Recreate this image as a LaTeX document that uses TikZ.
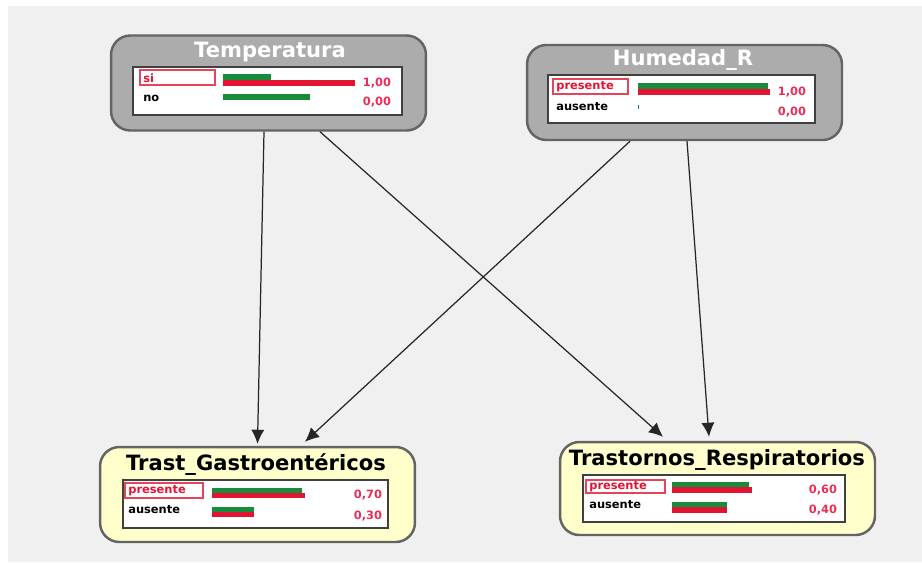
\documentclass[tikz,border=0pt]{standalone}
\usepackage{fontspec}
\setmainfont{DejaVu Sans}
\usetikzlibrary{positioning}
\usetikzlibrary{arrows.meta}

\definecolor{bggray}{RGB}{240,240,240}
\definecolor{nodegray}{RGB}{172,172,172}
\definecolor{edgegray}{RGB}{100,100,100}
\definecolor{nodeyellow}{RGB}{255,255,204}
\definecolor{barred}{RGB}{225,20,50}
\definecolor{bargreen}{RGB}{25,140,60}
\definecolor{valred}{RGB}{235,45,85}

\begin{document}
\begin{tikzpicture}[
        x = 0.02cm, y = -0.02cm,
        netnode/.style = {
            draw = edgegray,
            line width = 1.4pt,
            rounded corners = 11pt,
            minimum width = 6.3cm,
            minimum height = 1.9cm,
            inner sep = 0pt
        },
        title/.style = {
            font = \fontsize{12}{13}\selectfont\bfseries,
            inner sep = 0pt
        },
        panel/.style = {draw = black!75, fill = white, line width = 1pt},
        statebox/.style = {draw = barred!80, fill = white, line width = 0.6pt},
        state/.style = {font = \fontsize{6.5}{7}\selectfont\bfseries, anchor = west, inner sep = 0pt},
        value/.style = {font = \fontsize{6.5}{7}\selectfont\bfseries, text = valred, inner sep = 0pt},
        link/.style = {-{Latex[length=8pt, width=7.5pt]}, line width = 0.7pt, black!85}
        ]
%
        \fill[white] (0,0) rectangle (922,562);
        \useasboundingbox (0,0) rectangle (922,562);
        \fill[bggray] (8,6) rectangle (922,562);
%
% Temperatura
        \node[netnode, fill=nodegray] (temp) at (268.5,83) {};
        \node[title, text=white] (temp title) at (270,52) {Temperatura};
        \draw[panel] (133,67) rectangle (402,115);
        \draw[statebox] (140,70) rectangle (215,85);
        \node[state, text=barred] (temp si) at (143,78) {si};
        \node[state] (temp no) at (143,98) {no};
        \fill[bargreen] (223,74) rectangle (271,79.5);
        \fill[barred] (223,80) rectangle (355,86);
        \fill[bargreen] (223,94) rectangle (310,100);
        \node[value] (temp v1) at (377,83) {1,00};
        \node[value] (temp v2) at (377,102) {0,00};
%
% Humedad_R
        \node[netnode, fill=nodegray] (hum) at (684.5,92.5) {};
        \node[title, text=white] (hum title) at (683,60) {Humedad\_R};
        \draw[panel] (548,75) rectangle (815,123);
        \draw[statebox] (553,79) rectangle (628,94);
        \node[state, text=barred] (hum pres) at (556,86.5) {presente};
        \node[state] (hum aus) at (556,107) {ausente};
        \fill[bargreen] (638,83) rectangle (768,89);
        \fill[barred] (638,89) rectangle (770,95);
        \fill[bargreen] (637.5,105) rectangle (639,109);
        \node[value] (hum v1) at (792,92) {1,00};
        \node[value] (hum v2) at (792,112) {0,00};
%
% Trast_Gastroentericos
        \node[netnode, fill=nodeyellow] (gastro) at (257.5,494.5) {};
        \node[title] (gastro title) at (256,465) {Trast\_Gastroentéricos};
        \draw[panel] (123,480) rectangle (388,528);
        \draw[statebox] (125,483) rectangle (203,498);
        \node[state, text=barred] (gastro pres) at (128,490.5) {presente};
        \node[state] (gastro aus) at (128,510) {ausente};
        \fill[bargreen] (212,488) rectangle (302,493);
        \fill[barred] (212,493) rectangle (305,498);
        \fill[bargreen] (212,507) rectangle (254,512);
        \fill[barred] (212,512) rectangle (254,517);
        \node[value] (gastro v1) at (368,495) {0,70};
        \node[value] (gastro v2) at (368,516) {0,30};
%
% Trastornos_Respiratorios
        \node[netnode, fill=nodeyellow, minimum height=1.86cm] (resp) at (717.5,488.5) {};
        \node[title] (resp title) at (717,460) {Trastornos\_Respiratorios};
        \draw[panel] (583,475) rectangle (845,522);
        \draw[statebox] (586,480) rectangle (665,493);
        \node[state, text=barred] (resp pres) at (589,486.5) {presente};
        \node[state] (resp aus) at (589,505) {ausente};
        \fill[bargreen] (672,482) rectangle (749,487);
        \fill[barred] (672,487) rectangle (752,493);
        \fill[bargreen] (672,502) rectangle (727,507);
        \fill[barred] (672,507) rectangle (727,513);
        \node[value] (resp v1) at (823,490) {0,60};
        \node[value] (resp v2) at (823,510) {0,40};
%
% links
        \draw[link] ([xshift=-0.09cm]temp.south) -- ([yshift=0.04cm]gastro.north);
        \draw[link] ([xshift=1.03cm]temp.south) -- ([xshift=-1.09cm, yshift=0.08cm]resp.north);
        \draw[link] ([xshift=-1.09cm]hum.south) -- ([xshift=0.95cm, yshift=0.08cm]gastro.north);
        \draw[link] ([xshift=0.05cm]hum.south) -- ([xshift=-0.17cm, yshift=0.08cm]resp.north);
%
\end{tikzpicture}
\end{document}
